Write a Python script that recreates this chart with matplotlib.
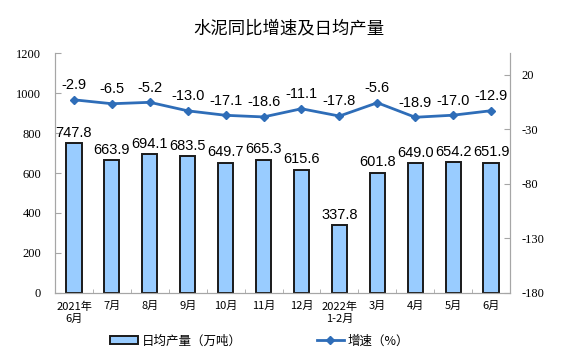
import matplotlib
matplotlib.use("Agg")
import matplotlib.pyplot as plt
import numpy as np

plt.rcParams['font.family'] = ['Noto Sans CJK SC', 'DejaVu Sans']

# data
months = ["2021年\n6月", "7月", "8月", "9月", "10月", "11月", "12月",
          "2022年\n1-2月", "3月", "4月", "5月", "6月"]
output = [747.8, 663.9, 694.1, 683.5, 649.7, 665.3, 615.6,
          337.8, 601.8, 649.0, 654.2, 651.9]
growth = [-2.9, -6.5, -5.2, -13.0, -17.1, -18.6, -11.1,
          -17.8, -5.6, -18.9, -17.0, -12.9]
left_ticks = [0, 200, 400, 600, 800, 1000, 1200]
right_ticks = [-180, -130, -80, -30, 20]

bar_face = "#99CCFF"
line_col = "#2E6DB8"
spine_col = "#A6A6A6"

fig = plt.figure(figsize=(5.75, 3.57), dpi=100)
ax = fig.add_axes([0.0957, 0.1793, 0.7913, 0.6722])
ax2 = ax.twinx()

x = np.arange(len(months))
ax.bar(x, output, width=0.4, color=bar_face, edgecolor="#1a1a1a", linewidth=1.4,
       label="日均产量（万吨）", zorder=2)
for xi, v in zip(x, output):
    ax.text(xi, v + 18, f"{v:.1f}", ha="center", va="bottom",
            fontsize=10.5, family="Liberation Sans")

ax2.plot(x, growth, color=line_col, linewidth=2, marker="D", markersize=4,
         label="增速（%）", zorder=3)
for xi, v in zip(x, growth):
    ax2.text(xi, v + 7, f"{v:.1f}", ha="center", va="bottom",
             fontsize=10.5, family="Liberation Sans")

ax.set_xlim(-0.5, len(months) - 0.5)
ax.set_ylim(0, 1200)
ax.set_yticks(left_ticks, labels=[str(t) for t in left_ticks],
              fontfamily="Liberation Serif", fontsize=9)
ax2.set_ylim(-180, 40)
ax2.set_yticks(right_ticks, labels=[str(t) for t in right_ticks],
               fontfamily="Liberation Serif", fontsize=9)

ax.set_xticks(x)
ax.set_xticklabels(months, fontsize=8, linespacing=1.3)
ax.set_xticks(np.arange(-0.5, len(months), 1), minor=True)
ax.tick_params(axis="x", which="major", length=0, pad=6)
ax.tick_params(axis="x", which="minor", direction="in", length=3, color=spine_col)
ax.tick_params(axis="y", direction="in", length=4, color=spine_col, pad=10)
ax2.tick_params(axis="y", direction="in", length=4, color=spine_col, pad=8)

for a in (ax, ax2):
    a.spines["top"].set_visible(False)
    for s in ("left", "right", "bottom"):
        a.spines[s].set_color(spine_col)

fig.text(0.503, 0.92, "水泥同比增速及日均产量", ha="center", va="center", fontsize=12.5)

h1, l1 = ax.get_legend_handles_labels()
h2, l2 = ax2.get_legend_handles_labels()
fig.legend(h1 + h2, l1 + l2, loc="center", bbox_to_anchor=(0.452, 0.045), ncol=2,
           frameon=False, fontsize=9, columnspacing=6, handlelength=2.2, handletextpad=0.3)

fig.savefig("out.png", dpi=100)
